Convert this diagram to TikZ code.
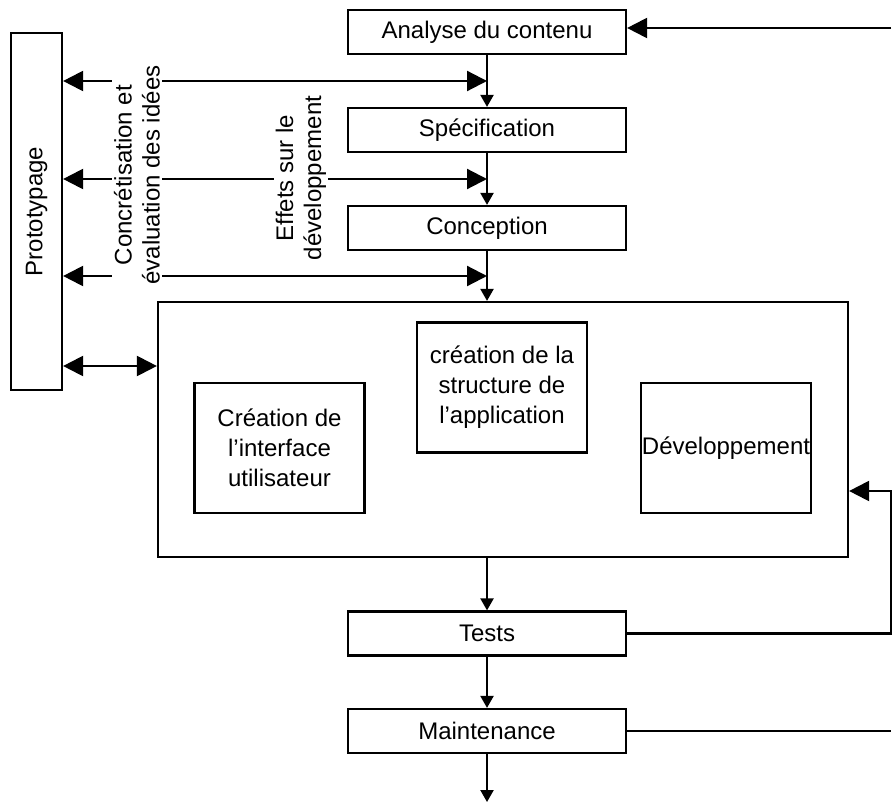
\documentclass[tikz,border=0pt]{standalone}
\usepackage{fontspec}
\setmainfont{Liberation Sans}
\usetikzlibrary{arrows.meta}

\begin{document}
\begin{tikzpicture}[x=0.5pt,y=-0.5pt,line width=1.1pt,
    every node/.style={font=\fontsize{12}{15}\selectfont},
    etape/.style={draw,minimum width=139pt,minimum height=22pt,inner sep=0pt},
    bloc/.style={draw,minimum width=85pt,minimum height=65pt,inner sep=0pt,align=center},
    petite/.style={-{Triangle[length=6pt,width=6.5pt]}},
    fin/.style={-{Triangle[length=10pt,width=10pt]}},
    double/.style={{Triangle[length=10pt,width=10pt]}-{Triangle[length=10pt,width=10pt]}},
    rot/.style={rotate=90,fill=white,inner sep=1pt,align=center,font=\fontsize{12}{14}\selectfont}]
    \useasboundingbox (0,0) rectangle (892,802);
    % etapes du cycle
    \node[etape] (analyse) at (487,32) {Analyse du contenu};
    \node[etape] (spec) at (487,130) {Spécification};
    \node[etape] (conception) at (487,228) {Conception};
    \node[etape] (tests) at (487,633.5) {Tests};
    \node[etape] (maintenance) at (487,731) {Maintenance};
    \node[draw,minimum width=25.5pt,minimum height=178.5pt,inner sep=0pt] (proto) at (36.5,211.5) {\rotatebox{90}{Prototypage}};
    \node[draw,minimum width=345pt,minimum height=127.5pt] (grand) at (503,429.5) {};
    \node[bloc] (interface) at (279.5,448) {Création de\\l’interface\\utilisateur};
    \node[bloc] (structure) at (502,387.5) {création de la\\structure de\\l’application};
    \node[bloc] (devel) at (726,448) {Développement};
    % fleches verticales
    \draw[petite] (analyse) -- (spec);
    \draw[petite] (spec) -- (conception);
    \draw[petite] (conception.south) -- (conception.south |- grand.north);
    \draw[petite] (tests.north |- grand.south) -- (tests.north);
    \draw[petite] (tests) -- (maintenance);
    \coordinate (bas) at (487,802);
    \draw[petite] (maintenance) -- (bas);
    % fleches vers le prototypage
    \coordinate (h1) at (487,81);
    \coordinate (h2) at (487,179);
    \coordinate (h3) at (487,276);
    \coordinate (h4) at (158,366);
    \draw[double] (proto.east |- h1) -- (h1);
    \draw[double] (proto.east |- h2) -- (h2);
    \draw[double] (proto.east |- h3) -- (h3);
    \draw[double] (proto.east |- h4) -- (grand.west |- h4);
    \node[rot] (idees) at (137,175) {Concrétisation et\\évaluation des idées};
    \node[rot] (effets) at (301,178) {Effets sur le\\développement};
    % retours
    \coordinate (bord) at (891,0);
    \coordinate (r1) at (0,28);
    \coordinate (r2) at (0,491);
    \draw[fin] (bord |- r1) -- (analyse.east |- r1);
    \draw[fin] (tests.east) -- (bord |- tests.east) -- (bord |- r2) -- (grand.east |- r2);
    \draw (maintenance.east) -- (bord |- maintenance.east);
\end{tikzpicture}
\end{document}
